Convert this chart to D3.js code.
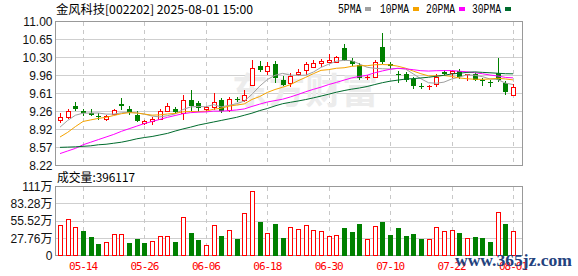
<!DOCTYPE html>
<html><head><meta charset="utf-8">
<script src="https://cdn.jsdelivr.net/npm/d3@7"></script>
<style>body{margin:0;background:#fff;} svg{display:block;}</style>
</head><body><svg id="c" width="578" height="276"></svg>
<script>
const dates = ["05-09","05-12","05-13","05-14","05-15","05-16","05-19","05-20","05-21","05-22","05-23","05-26","05-27","05-28","05-29","05-30","06-03","06-04","06-05","06-06","06-09","06-10","06-11","06-12","06-13","06-16","06-17","06-18","06-19","06-20","06-23","06-24","06-25","06-26","06-27","06-30","07-01","07-02","07-03","07-04","07-07","07-08","07-09","07-10","07-11","07-14","07-15","07-16","07-17","07-18","07-21","07-22","07-23","07-24","07-25","07-28","07-29","07-30","07-31","08-01"];
const open = [9.10,9.16,9.37,9.28,9.23,9.17,9.11,9.22,9.40,9.32,
  9.20,9.05,9.08,9.12,9.28,9.31,9.24,9.475,9.42,9.31,
  9.355,9.475,9.30,9.51,9.485,9.78,10.15,10.04,10.17,9.875,
  9.82,9.98,10.06,10.125,10.20,10.22,10.22,10.48,10.23,10.16,
  9.91,9.93,10.51,10.17,9.99,9.98,9.89,9.76,9.73,9.79,
  10.02,10.00,10.04,9.96,9.985,9.87,9.84,10.015,9.81,9.59];
const high = [9.24,9.32,9.44,9.32,9.31,9.23,9.20,9.31,9.53,9.37,
  9.27,9.10,9.15,9.31,9.42,9.34,9.58,9.68,9.46,9.36,
  9.62,9.53,9.55,9.54,9.68,10.26,10.23,10.21,10.23,9.94,
  10.00,10.08,10.22,10.25,10.27,10.38,10.34,10.575,10.30,10.19,
  9.96,10.25,10.77,10.21,10.04,10.02,9.925,9.81,9.77,9.98,
  10.07,10.07,10.09,9.99,10.00,9.90,9.875,10.29,9.86,9.80];
const low = [9.05,9.12,9.27,9.17,9.18,9.09,9.08,9.21,9.30,9.20,
  9.06,9.00,9.00,9.09,9.26,9.22,9.10,9.27,9.26,9.25,
  9.30,9.23,9.26,9.44,9.44,9.755,10.02,9.96,9.82,9.76,
  9.74,9.95,9.96,10.105,10.125,10.19,10.19,10.23,10.145,9.87,
  9.87,9.90,10.18,10.08,9.82,9.83,9.70,9.69,9.68,9.73,
  9.96,9.91,9.89,9.85,9.86,9.76,9.73,9.83,9.59,9.57];
const close = [9.15,9.28,9.31,9.23,9.195,9.15,9.18,9.30,9.36,9.25,
  9.08,9.07,9.11,9.28,9.37,9.25,9.49,9.36,9.33,9.34,
  9.455,9.27,9.51,9.49,9.59,10.11,10.055,10.15,9.90,9.78,
  9.94,10.03,10.17,10.20,10.23,10.25,10.32,10.25,10.17,9.91,
  9.93,10.22,10.21,10.14,9.97,9.875,9.75,9.74,9.755,9.92,
  9.98,10.05,9.925,9.98,9.875,9.85,9.82,9.88,9.63,9.735];
const volume = [486000,583000,454000,394000,298000,185000,212000,341000,341000,206000,
  261000,196000,233000,314000,314000,222000,615000,367000,249000,169000,
  486000,314000,410000,265000,684000,1033000,539000,362000,507000,282000,
  454000,421000,486000,405000,389000,309000,325000,442000,378000,507000,
  261000,470000,539000,330000,442000,314000,346000,265000,261000,454000,
  394000,405000,362000,277000,298000,282000,217000,695000,507000,396117];
const ma5 = [8.96,9.09,9.19,9.23,9.233,9.233,9.213,9.211,9.237,9.248,
  9.234,9.212,9.174,9.158,9.182,9.216,9.30,9.35,9.36,9.354,
  9.395,9.351,9.381,9.413,9.463,9.594,9.751,9.879,9.961,9.999,
  9.965,9.96,9.964,10.024,10.114,10.176,10.234,10.25,10.244,10.18,
  10.116,10.096,10.088,10.082,10.094,10.083,9.989,9.895,9.818,9.808,
  9.829,9.889,9.926,9.971,9.962,9.936,9.89,9.881,9.811,9.783];
const ma10 = [8.77,8.86,8.97,9.07,9.10,9.13,9.15,9.185,9.22,9.24,
  9.234,9.212,9.192,9.198,9.215,9.225,9.256,9.262,9.259,9.268,
  9.306,9.326,9.366,9.387,9.409,9.495,9.551,9.63,9.687,9.731,
  9.78,9.856,9.922,9.993,10.057,10.071,10.097,10.107,10.134,10.147,
  10.146,10.165,10.169,10.163,10.137,10.099,10.043,9.992,9.95,9.951,
  9.957,9.94,9.91,9.895,9.885,9.883,9.89,9.904,9.891,9.873];
const ma20 = [8.45,8.50,8.55,8.62,8.67,8.72,8.77,8.82,8.88,8.93,
  8.98,9.03,9.07,9.11,9.15,9.185,9.22,9.24,9.25,9.254,
  9.27,9.269,9.279,9.292,9.312,9.36,9.404,9.446,9.473,9.50,
  9.543,9.591,9.644,9.69,9.733,9.783,9.824,9.869,9.911,9.939,
  9.963,10.01,10.046,10.078,10.097,10.086,10.07,10.05,10.043,10.05,
  10.052,10.053,10.04,10.029,10.012,9.992,9.967,9.948,9.921,9.912];
const ma30 = [8.57,8.575,8.58,8.59,8.60,8.62,8.63,8.65,8.67,8.70,
  8.735,8.76,8.78,8.81,8.84,8.885,8.925,8.96,9.00,9.03,
  9.06,9.09,9.12,9.15,9.19,9.23,9.28,9.32,9.37,9.413,
  9.44,9.465,9.493,9.526,9.56,9.597,9.635,9.667,9.694,9.716,
  9.745,9.783,9.819,9.848,9.868,9.889,9.897,9.91,9.924,9.943,
  9.961,9.987,10.001,10.017,10.027,10.018,10.01,10.001,9.992,9.99];
const priceTickValues = [8.22,8.5675,8.915,9.2625,9.61,9.9575,10.305,10.6525,11.00];
const priceTickLabels = ["8.22","8.57","8.92","9.26","9.61","9.96","10.30","10.65","11.00"];
const volTickValues = [0,277600,555200,832800,1110400];
const volTickLabels = ["0","27.76万","55.52万","83.28万","111万"];
const xTickDates = ["05-14","05-26","06-06","06-18","06-30","07-10","07-22","08-01"];
const maNames = ["5PMA","10PMA","20PMA","30PMA"];
const maColors = ["#a0a0a0","#f5a300","#ff00ff","#006b2d"];
const titleText = "金风科技[002202] 2025-08-01 15:00";
const volTitle = "成交量:396117";

const UP = "#ff0000", DOWN = "#008000";
const svg = d3.select("#c");
svg.append("rect").attr("width",578).attr("height",276).attr("fill","#fff");
const L = 55.5, R = 522.5, PT = 21.5, PB = 165.5, VT = 186.5, VB = 255.5;
const x = d3.scalePoint().domain(dates).range([60, 513]);
const yP = d3.scaleLinear().domain([8.22, 11.00]).range([PB, PT]);
const yV = d3.scaleLinear().domain([0, 1110400]).range([VB, VT]);

// horizontal gridlines
const grid = svg.append("g").attr("shape-rendering","crispEdges");
grid.selectAll(".hp").data(priceTickValues).join("line")
  .attr("x1",L).attr("x2",R).attr("y1",d=>yP(d)).attr("y2",d=>yP(d))
  .attr("stroke","#cfcfcf");
grid.selectAll(".hv").data(volTickValues).join("line")
  .attr("x1",L).attr("x2",R).attr("y1",d=>yV(d)).attr("y2",d=>yV(d))
  .attr("stroke","#cfcfcf");
// vertical dashed gridlines
[[PT,PB],[VT,VB]].forEach(([a,b])=>{
  grid.append("g").selectAll("line").data(xTickDates).join("line")
    .attr("x1",d=>Math.round(x(d))+0.5).attr("x2",d=>Math.round(x(d))+0.5)
    .attr("y1",a).attr("y2",b)
    .attr("stroke","#c8c8c8").attr("stroke-dasharray","4,4");
});

// watermark
svg.append("text").attr("x",232).attr("y",104).text("东方财富")
  .attr("font-family","Noto Sans CJK SC").attr("font-weight","bold")
  .attr("font-size",36).attr("fill","#ececec").attr("textLength",146);

// frames
svg.append("rect").attr("x",L).attr("y",PT).attr("width",R-L).attr("height",PB-PT)
  .attr("fill","none").attr("stroke","#999").attr("shape-rendering","crispEdges");
svg.append("rect").attr("x",L).attr("y",VT).attr("width",R-L).attr("height",VB-VT)
  .attr("fill","none").attr("stroke","#999").attr("shape-rendering","crispEdges");

// candles
const cg = svg.append("g").attr("shape-rendering","crispEdges");
dates.forEach((d,i)=>{
  const c = Math.round(x(d));
  const up = close[i] >= open[i];
  const col = up ? UP : DOWN;
  cg.append("line").attr("x1",c+0.5).attr("x2",c+0.5)
    .attr("y1",Math.round(yP(high[i]))).attr("y2",Math.round(yP(low[i])))
    .attr("stroke",col);
  const top = Math.round(yP(Math.max(open[i],close[i])));
  const bot = Math.round(yP(Math.min(open[i],close[i])));
  const h = Math.max(bot-top,1);
  if (up) {
    if (bot-top < 2) {
      cg.append("rect").attr("x",c-2).attr("y",top).attr("width",5).attr("height",1).attr("fill",col);
    } else {
      cg.append("rect").attr("x",c-2+0.5).attr("y",top+0.5).attr("width",4).attr("height",h)
        .attr("fill","#fff").attr("stroke",col);
    }
  } else {
    cg.append("rect").attr("x",c-2).attr("y",top).attr("width",5).attr("height",h).attr("fill",col);
  }
});

// MA lines
[ma5,ma10,ma20,ma30].forEach((arr,k)=>{
  svg.append("path").datum(arr)
    .attr("d",d3.line().x((v,i)=>x(dates[i])).y(v=>yP(v)))
    .attr("fill","none").attr("stroke",maColors[k]).attr("stroke-width",1);
});

// volume bars
const vg = svg.append("g").attr("shape-rendering","crispEdges");
dates.forEach((d,i)=>{
  const c = Math.round(x(d));
  const up = i === 0 ? close[i] >= open[i] : close[i] >= close[i-1];
  const top = Math.round(yV(volume[i]));
  const base = Math.round(VB);
  if (up) {
    vg.append("rect").attr("x",c-2+0.5).attr("y",top+0.5).attr("width",4).attr("height",base-top-1)
      .attr("fill","#fff").attr("stroke",UP);
  } else {
    vg.append("rect").attr("x",c-2).attr("y",top).attr("width",5).attr("height",base-top).attr("fill",DOWN);
  }
});

// axes
const fontNum = "Liberation Sans, Arial, Noto Sans CJK SC, sans-serif";
const ayP = svg.append("g").attr("transform",`translate(${L},0)`)
  .call(d3.axisLeft(yP).tickValues(priceTickValues).tickFormat((d,i)=>priceTickLabels[i]).tickSize(0).tickPadding(3));
ayP.select(".domain").remove();
ayP.selectAll("text").attr("font-size",12).attr("font-family",fontNum).attr("fill","#111");
const ayV = svg.append("g").attr("transform",`translate(${L},0)`)
  .call(d3.axisLeft(yV).tickValues(volTickValues).tickFormat((d,i)=>volTickLabels[i]).tickSize(0).tickPadding(3));
ayV.select(".domain").remove();
ayV.selectAll("text").attr("font-size",12).attr("font-family",fontNum).attr("fill","#111");
const ax = svg.append("g").attr("transform",`translate(0,${VB})`)
  .call(d3.axisBottom(x).tickValues(xTickDates).tickSize(0));
ax.select(".domain").remove();
ax.selectAll("text").attr("y",14.5).attr("dy",0).attr("font-size",11)
  .attr("font-family","DejaVu Sans Mono, monospace").attr("fill",UP).attr("textLength",29);

// title
svg.append("text").attr("x",56).attr("y",14).text(titleText)
  .attr("font-family","Noto Sans CJK SC").attr("font-size",12).attr("fill","#000")
  .attr("textLength",197).attr("lengthAdjust","spacingAndGlyphs");
// volume title
svg.append("text").attr("x",57).attr("y",182).text(volTitle)
  .attr("font-family","Noto Sans CJK SC").attr("font-size",12).attr("fill","#000")
  .attr("textLength",78).attr("lengthAdjust","spacingAndGlyphs");

// legend
const legX = [338,380,426,472], legW = [23.5,29,29,29], sqX = [365,413,459,505];
maNames.forEach((n,k)=>{
  svg.append("text").attr("x",legX[k]).attr("y",12.7).text(n)
    .attr("font-family","Liberation Mono, monospace").attr("font-size",12).attr("fill","#000")
    .attr("textLength",legW[k]).attr("lengthAdjust","spacingAndGlyphs");
  svg.append("rect").attr("x",sqX[k]).attr("y",7).attr("width",6).attr("height",4).attr("fill",maColors[k]);
});

// site watermark
svg.append("text").attr("x",455).attr("y",266).text("www.365jz.com")
  .attr("font-family","Liberation Serif, serif").attr("font-weight","bold").attr("font-size",17)
  .attr("fill","#23427e").attr("textLength",117).attr("lengthAdjust","spacingAndGlyphs");
</script></body></html>
